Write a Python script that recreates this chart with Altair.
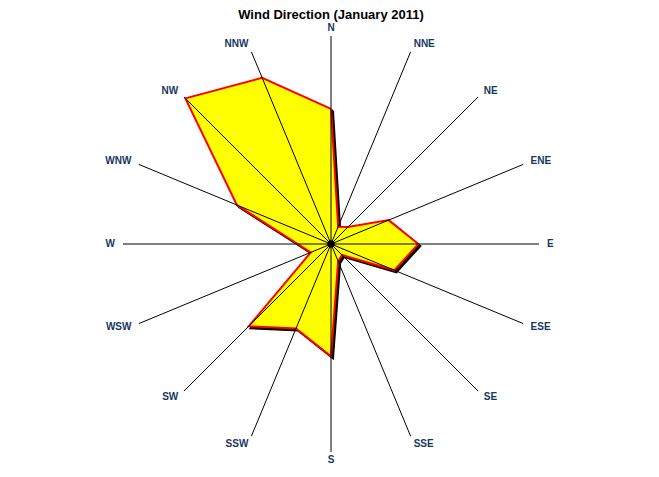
import altair as alt
import pandas as pd

# ---- data -------------------------------------------------------------
directions = ["N", "NNE", "NE", "ENE", "E", "ESE", "SE", "SSE",
              "S", "SSW", "SW", "WSW", "W", "WNW", "NW", "NNW"]
values = [65, 9, 11.5, 30, 42, 33, 7.5, 9, 54, 44, 56, 10.5, 16, 49, 99, 86.5]
axis_max = 100
title_text = "Wind Direction (January 2011)"

df = pd.DataFrame({"dir": directions, "value": values, "idx": list(range(len(directions)))})
poly_df = pd.concat([df, df.iloc[[0]].assign(idx=len(directions))], ignore_index=True)
title_df = pd.DataFrame({"t": [title_text]})

# ---- layout -----------------------------------------------------------
W, H = 643, 461
cx, cy = 323, 236          # centre in plot pixels
px_per_unit = 208 / axis_max
xs = alt.Scale(domain=[-cx / px_per_unit, (W - cx) / px_per_unit], nice=False, zero=False)
ys = alt.Scale(domain=[-(H - cy) / px_per_unit, cy / px_per_unit], nice=False, zero=False)

FONT = "Liberation Sans"
LABEL_COLOR = "#17375E"

ang = "datum.idx * PI / 8"


def pos(chart, rfield):
    return chart.transform_calculate(
        a=ang,
        x=f"{rfield} * sin(datum.a)",
        y=f"{rfield} * cos(datum.a)",
    )


shadow = pos(alt.Chart(poly_df), "datum.value").mark_line(
    fill="black", stroke="black", strokeWidth=2, xOffset=2, yOffset=2
).encode(
    x=alt.X("x:Q", scale=xs, axis=None),
    y=alt.Y("y:Q", scale=ys, axis=None),
    order="idx:Q",
)

polygon = pos(alt.Chart(poly_df), "datum.value").mark_line(
    fill="#FFFF00", stroke="#FF0000", strokeWidth=2
).encode(
    x=alt.X("x:Q", scale=xs, axis=None),
    y=alt.Y("y:Q", scale=ys, axis=None),
    order="idx:Q",
)

rules = alt.Chart(df).transform_calculate(
    a=ang,
    zero="0",
    x2=f"{axis_max} * sin(datum.a)",
    y2=f"{axis_max} * cos(datum.a)",
).mark_rule(color="black", strokeWidth=1).encode(
    x=alt.X("zero:Q", scale=xs, axis=None),
    y=alt.Y("zero:Q", scale=ys, axis=None),
    x2="x2:Q",
    y2="y2:Q",
)

dot = alt.Chart(title_df).transform_calculate(zero="0").mark_circle(
    size=55, color="black", opacity=1
).encode(
    x=alt.X("zero:Q", scale=xs, axis=None),
    y=alt.Y("zero:Q", scale=ys, axis=None),
)

r_label = axis_max * 216 / 208
label_base = alt.Chart(df).transform_calculate(
    a=ang,
    s="sin(datum.a)",
    x=f"{r_label} * sin(datum.a)",
    y=f"{r_label} * cos(datum.a)",
)


def labels(filter_expr, align):
    return label_base.transform_filter(filter_expr).mark_text(
        align=align, baseline="middle", font=FONT, fontSize=10,
        fontWeight="bold", color=LABEL_COLOR
    ).encode(
        x=alt.X("x:Q", scale=xs, axis=None),
        y=alt.Y("y:Q", scale=ys, axis=None),
        text="dir:N",
    )


lab_r = labels("datum.s > 0.1", "left")
lab_l = labels("datum.s < -0.1", "right")
lab_c = labels("abs(datum.s) <= 0.1", "center")

title = alt.Chart(title_df).mark_text(
    align="center", baseline="top", font=FONT, fontSize=13,
    fontWeight="bold", color="black"
).encode(text="t:N", x=alt.value(cx), y=alt.value(1))

chart = alt.layer(
    shadow, polygon, rules, dot, lab_r, lab_l, lab_c, title
).properties(
    width=W, height=H, autosize="none", padding=0
).configure_view(strokeWidth=0)

chart.save("out.html", embed_options={"renderer": "svg", "actions": False})
